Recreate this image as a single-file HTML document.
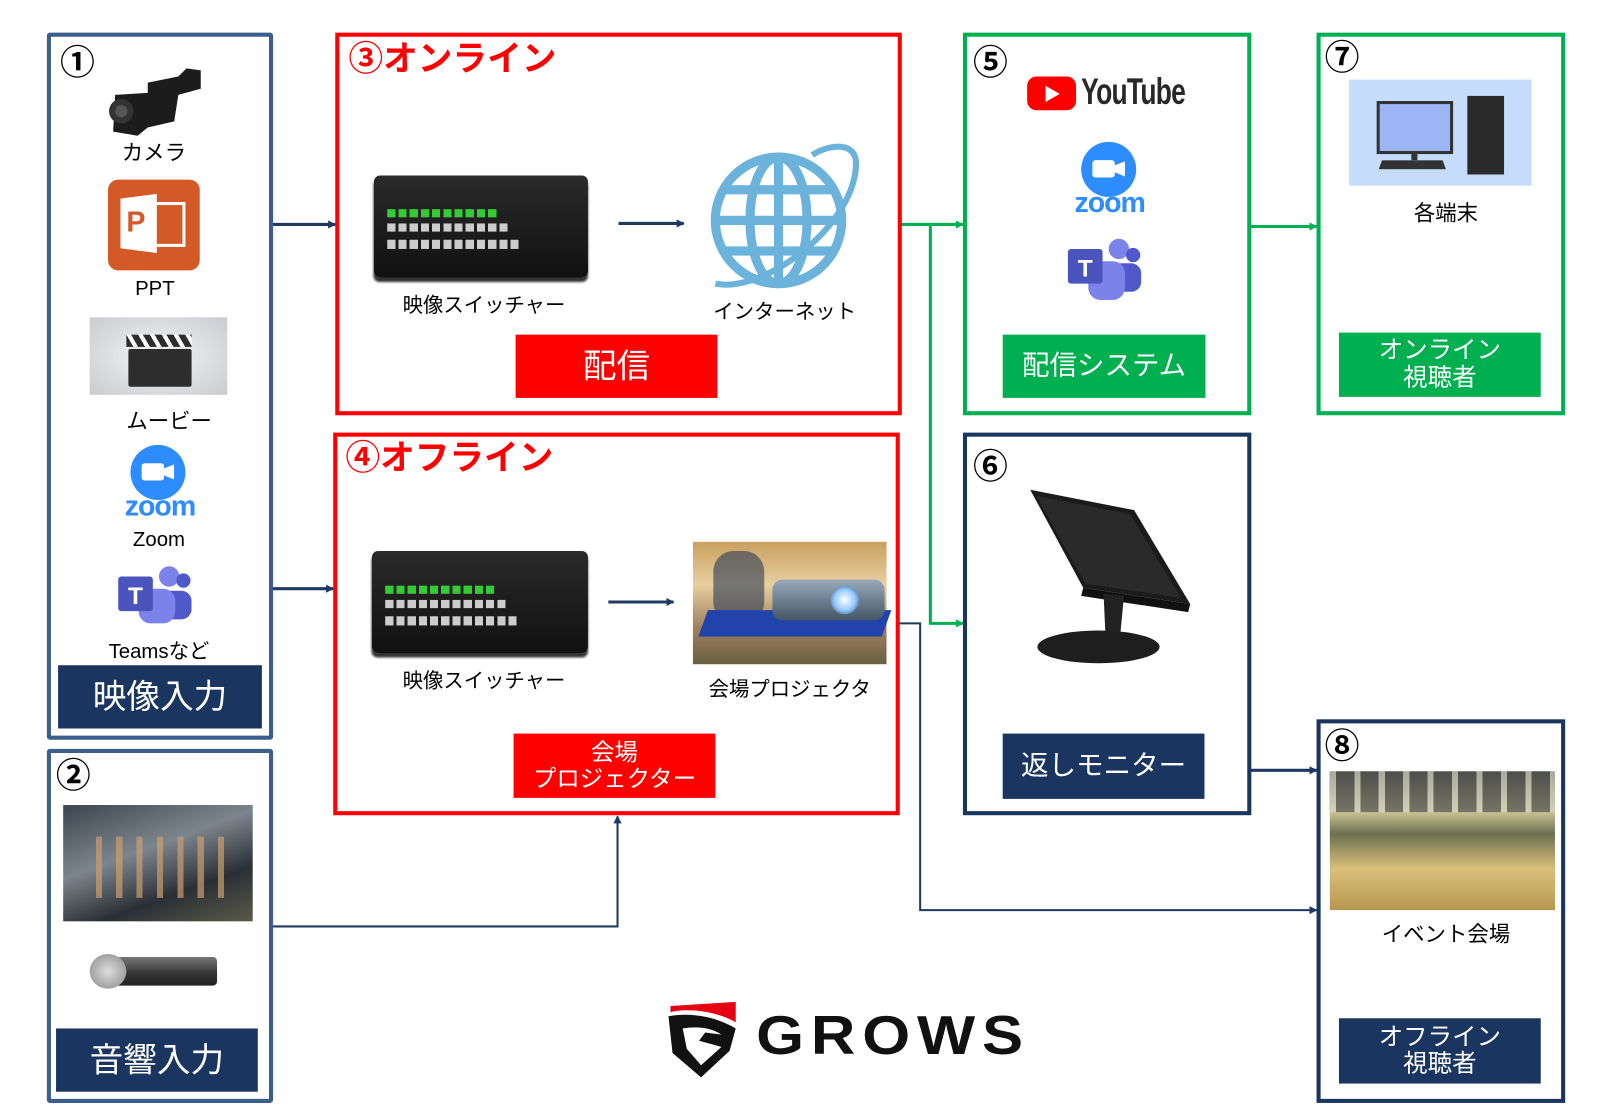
<!DOCTYPE html>
<html><head><meta charset="utf-8">
<style>
html,body{margin:0;padding:0;background:#fff;width:1599px;height:1107px;overflow:hidden}
#w{position:absolute;left:0;top:0;width:1560px;height:1085px;transform-origin:0 0;transform:scale(1.019,1.0203);font-family:"Liberation Sans","Noto Sans CJK JP",sans-serif}
.a{position:absolute;box-sizing:border-box}
.t{position:absolute;white-space:nowrap;text-align:center;color:#000;transform:translateX(-50%)}
.bar{position:absolute;color:#fff;display:flex;align-items:center;justify-content:center;text-align:center;line-height:1.1}
.num{position:absolute;font-size:34px;color:#000;line-height:1;font-family:"Noto Sans CJK JP",sans-serif;font-weight:bold}
.sw{position:absolute;background:linear-gradient(#2a2a2a,#111);border-radius:6px;box-shadow:0 4px 2px #333}
</style></head><body><div id="w">

<svg class="a" style="left:0;top:0" width="1560" height="1085">
<defs>
<marker id="mb" markerWidth="8" markerHeight="8" refX="7" refY="4" orient="auto" markerUnits="userSpaceOnUse"><path d="M0,0 L8,4 L0,8z" fill="#1f3a60"/></marker>
<marker id="mg" markerWidth="8" markerHeight="8" refX="7" refY="4" orient="auto" markerUnits="userSpaceOnUse"><path d="M0,0 L8,4 L0,8z" fill="#00b050"/></marker>
</defs>
<g fill="none" stroke-width="3">
<path d="M267,220 H329" stroke="#1f3a60" marker-end="url(#mb)"/>
<path d="M267,577 H327" stroke="#1f3a60" marker-end="url(#mb)"/>
<path d="M607,219 H671" stroke="#1f3a60" marker-end="url(#mb)"/>
<path d="M597,590 H661" stroke="#1f3a60" marker-end="url(#mb)"/>
<path d="M884,220 H945" stroke="#00b050" marker-end="url(#mg)"/>
<path d="M913,220 V611 H945" stroke="#00b050" marker-end="url(#mg)"/>
<path d="M1227,222 H1292" stroke="#00b050" marker-end="url(#mg)"/>
<path d="M1227,755 H1292" stroke="#1f3a60" marker-end="url(#mb)"/>
<path d="M882,611 H903 V892 H1292" stroke="#1f3a60" marker-end="url(#mb)" stroke-width="2"/>
<path d="M267,908 H606 V800" stroke="#1f3a60" marker-end="url(#mb)" stroke-width="2"/>
</g>
</svg>

<div class="a" style="left:46px;top:32px;width:222px;height:693px;border:4px solid #3a5f8c;border-radius:3px"></div>
<div class="a" style="left:46px;top:734px;width:222px;height:347px;border:4px solid #3a5f8c;border-radius:3px"></div>
<div class="a" style="left:329px;top:32px;width:556px;height:375px;border:4px solid #f00"></div>
<div class="a" style="left:327px;top:424px;width:556px;height:375px;border:4px solid #f00"></div>
<div class="a" style="left:945px;top:32px;width:283px;height:375px;border:4px solid #00b050"></div>
<div class="a" style="left:1292px;top:32px;width:244px;height:375px;border:4px solid #00b050"></div>
<div class="a" style="left:945px;top:424px;width:283px;height:375px;border:4px solid #1a355f"></div>
<div class="a" style="left:1292px;top:705px;width:244px;height:376px;border:4px solid #1a355f"></div>

<div class="num" style="left:59px;top:42px">①</div>
<div class="num" style="left:55px;top:741px">②</div>
<div class="num" style="left:955px;top:42px">⑤</div>
<div class="num" style="left:1300px;top:37px">⑦</div>
<div class="num" style="left:955px;top:438px">⑥</div>
<div class="num" style="left:1300px;top:712px">⑧</div>
<div class="a" style="left:342px;top:40px;font-size:34px;font-weight:bold;color:#f00;line-height:1.1">③オンライン</div>
<div class="a" style="left:339px;top:431px;font-size:34px;font-weight:bold;color:#f00;line-height:1.1">④オフライン</div>

<svg class="a" style="left:105px;top:63px" width="96" height="72"><path d="M8,30 L40,28 L40,18 L70,12 L78,4 L92,6 L92,24 L70,30 L66,56 L40,62 L30,70 L6,66 Z" fill="#1c1c1c"/><circle cx="14" cy="46" r="12" fill="#333"/><circle cx="14" cy="46" r="6" fill="#555"/></svg>
<div class="t" style="left:151px;top:134px;font-size:21px">カメラ</div>
<div class="a" style="left:106px;top:176px;width:90px;height:89px;background:#d35a26;border-radius:10px"></div>
<div class="a" style="left:118px;top:190px;width:36px;height:58px;background:#fff;clip-path:polygon(0 8%,100% 0,100% 100%,0 92%)"></div>
<div class="a" style="left:150px;top:198px;width:32px;height:44px;border:3px solid #fff"></div>
<div class="a" style="left:124px;top:202px;font-size:28px;font-weight:bold;color:#d35a26">P</div>
<div class="t" style="left:152px;top:272px;font-size:20px">PPT</div>
<div class="a" style="left:88px;top:311px;width:135px;height:76px;background:radial-gradient(#f4f4f4,#c9cbd0)"></div>
<div class="a" style="left:124px;top:328px;width:64px;height:12px;background:repeating-linear-gradient(60deg,#2d2d2d 0 6px,#fff 6px 10px)"></div>
<div class="a" style="left:126px;top:342px;width:62px;height:37px;background:#2d2d2d;border-radius:2px"></div>
<div class="t" style="left:166px;top:397px;font-size:21px">ムービー</div>
<div class="a" style="left:128px;top:436px;width:54px;height:54px;border-radius:50%;background:#2d8cff"></div>
<div class="a" style="left:139px;top:454px;width:22px;height:17px;background:#fff;border-radius:3px"></div>
<div class="a" style="left:160px;top:455px;width:11px;height:15px;background:#fff;clip-path:polygon(0 30%,100% 0,100% 100%,0 70%)"></div>
<div class="t" style="left:157px;top:480px;font-size:28px;color:#2d8cff;font-weight:bold;letter-spacing:-1px">zoom</div>
<div class="t" style="left:156px;top:518px;font-size:20px">Zoom</div>
<svg class="a" style="left:114px;top:553px" width="74" height="60"><circle cx="52" cy="12" r="10" fill="#7b83eb"/><circle cx="66" cy="16" r="7" fill="#5059c9"/><rect x="44" y="26" width="30" height="28" rx="10" fill="#5059c9"/><rect x="22" y="24" width="36" height="34" rx="12" fill="#7b83eb"/><rect x="2" y="12" width="34" height="34" rx="3" fill="#4b53bc"/><text x="19" y="39" font-size="24" font-weight="bold" fill="#fff" text-anchor="middle" font-family="Liberation Sans">T</text></svg>
<div class="t" style="left:156px;top:622px;font-size:20px">Teamsなど</div>
<div class="bar" style="left:57px;top:652px;width:200px;height:62px;background:#1a355f;font-size:33px">映像入力</div>

<div class="a" style="left:62px;top:789px;width:186px;height:114px;background:linear-gradient(160deg,#3c4550,#7d858c 40%,#2a2f35 70%,#5a5a4a)"></div>
<div class="a" style="left:80px;top:820px;width:150px;height:60px;background:repeating-linear-gradient(90deg,transparent 0 14px,#c9a070 14px 20px);opacity:.7"></div>
<div class="a" style="left:90px;top:938px;width:123px;height:28px;background:linear-gradient(#777,#333 60%,#222);border-radius:14px 4px 4px 14px"></div>
<div class="a" style="left:88px;top:935px;width:36px;height:34px;background:radial-gradient(#ddd,#888);border-radius:50%"></div>
<div class="bar" style="left:55px;top:1008px;width:198px;height:62px;background:#1a355f;font-size:33px">音響入力</div>

<div class="sw" style="left:367px;top:172px;width:210px;height:100px"></div>
<div class="a" style="left:380px;top:205px;width:110px;height:8px;background:repeating-linear-gradient(90deg,#3c3 0 8px,transparent 8px 11px)"></div>
<div class="a" style="left:380px;top:219px;width:120px;height:8px;background:repeating-linear-gradient(90deg,#ccc 0 8px,transparent 8px 11px)"></div>
<div class="a" style="left:380px;top:235px;width:130px;height:9px;background:repeating-linear-gradient(90deg,#ccc 0 8px,transparent 8px 11px)"></div>
<div class="t" style="left:475px;top:283px;font-size:20px">映像スイッチャー</div>
<svg class="a" style="left:692px;top:138px" width="155" height="155"><g fill="none" stroke="#6cb3db" stroke-width="9"><circle cx="72" cy="78" r="62"/><ellipse cx="72" cy="78" rx="28" ry="62"/><path d="M72,16 V140 M10,78 H134 M20,48 H124 M20,108 H124"/></g><path d="M10,140 C60,150 150,80 148,20 C146,0 120,4 105,14" fill="none" stroke="#6cb3db" stroke-width="6"/></svg>
<div class="t" style="left:770px;top:289px;font-size:20px">インターネット</div>
<div class="bar" style="left:506px;top:328px;width:198px;height:62px;background:#f00;font-size:33px">配信</div>

<div class="sw" style="left:365px;top:540px;width:212px;height:100px"></div>
<div class="a" style="left:378px;top:574px;width:110px;height:8px;background:repeating-linear-gradient(90deg,#3c3 0 8px,transparent 8px 11px)"></div>
<div class="a" style="left:378px;top:588px;width:120px;height:8px;background:repeating-linear-gradient(90deg,#ccc 0 8px,transparent 8px 11px)"></div>
<div class="a" style="left:378px;top:604px;width:130px;height:9px;background:repeating-linear-gradient(90deg,#ccc 0 8px,transparent 8px 11px)"></div>
<div class="t" style="left:475px;top:651px;font-size:20px">映像スイッチャー</div>
<div class="a" style="left:680px;top:531px;width:190px;height:120px;background:linear-gradient(180deg,#c9a060,#e8cfa0 35%,#a08060 70%,#6a6040)"></div>
<div class="a" style="left:700px;top:540px;width:50px;height:70px;background:#2a3a55;opacity:.6;border-radius:20px"></div>
<div class="a" style="left:690px;top:598px;width:180px;height:26px;background:#2244aa;transform:skewX(-20deg)"></div>
<div class="a" style="left:758px;top:568px;width:110px;height:40px;background:linear-gradient(#9ab,#456);border-radius:10px"></div>
<div class="a" style="left:815px;top:574px;width:28px;height:28px;border-radius:50%;background:radial-gradient(#fff,#9cf 50%,#246)"></div>
<div class="t" style="left:775px;top:659px;font-size:20px">会場プロジェクタ</div>
<div class="bar" style="left:504px;top:719px;width:198px;height:63px;background:#f00;font-size:23px">会場<br>プロジェクター</div>

<div class="a" style="left:1008px;top:75px;width:48px;height:33px;background:#f00;border-radius:9px"></div>
<div class="a" style="left:1026px;top:84px;width:14px;height:16px;background:#fff;clip-path:polygon(0 0,100% 50%,0 100%)"></div>
<div class="a" style="left:1061px;top:72px;font-size:36px;font-weight:bold;color:#282828;transform:scaleX(.72);transform-origin:0 0;letter-spacing:-1px;line-height:1">YouTube</div>
<div class="a" style="left:1061px;top:139px;width:54px;height:54px;border-radius:50%;background:#2d8cff"></div>
<div class="a" style="left:1072px;top:157px;width:22px;height:17px;background:#fff;border-radius:3px"></div>
<div class="a" style="left:1093px;top:158px;width:11px;height:15px;background:#fff;clip-path:polygon(0 30%,100% 0,100% 100%,0 70%)"></div>
<div class="t" style="left:1089px;top:183px;font-size:28px;color:#2d8cff;font-weight:bold;letter-spacing:-1px">zoom</div>
<svg class="a" style="left:1046px;top:232px" width="74" height="64"><circle cx="52" cy="12" r="10" fill="#7b83eb"/><circle cx="66" cy="18" r="7" fill="#5059c9"/><rect x="44" y="26" width="30" height="28" rx="10" fill="#5059c9"/><rect x="22" y="24" width="36" height="38" rx="12" fill="#7b83eb"/><rect x="2" y="12" width="34" height="34" rx="3" fill="#4b53bc"/><text x="19" y="39" font-size="24" font-weight="bold" fill="#fff" text-anchor="middle" font-family="Liberation Sans">T</text></svg>
<div class="bar" style="left:984px;top:328px;width:199px;height:62px;background:#00b050;font-size:27px">配信システム</div>

<div class="a" style="left:1324px;top:78px;width:179px;height:104px;background:#c5dcfb"></div>
<div class="a" style="left:1351px;top:99px;width:75px;height:52px;background:#9cb6f5;border:3px solid #333;box-sizing:border-box"></div>
<div class="a" style="left:1385px;top:151px;width:6px;height:6px;background:#333"></div>
<div class="a" style="left:1353px;top:157px;width:66px;height:9px;background:#333;clip-path:polygon(5% 0,95% 0,100% 100%,0 100%)"></div>
<div class="a" style="left:1440px;top:94px;width:36px;height:77px;background:#2a2a2a"></div>
<div class="t" style="left:1419px;top:193px;font-size:21px">各端末</div>
<div class="bar" style="left:1314px;top:326px;width:198px;height:63px;background:#00b050;font-size:24px">オンライン<br>視聴者</div>

<svg class="a" style="left:1003px;top:476px" width="170" height="188"><path d="M8,4 L110,24 L165,116 L60,100 Z" fill="#1b1b1b"/><path d="M14,10 L106,28 L156,110 L62,96 Z" fill="#2a2a2a"/><path d="M60,100 L165,116 L163,124 L58,108 Z" fill="#111"/><path d="M80,106 L100,108 L96,150 L82,150 Z" fill="#222"/><ellipse cx="75" cy="158" rx="60" ry="16" fill="#1e1e1e"/></svg>
<div class="bar" style="left:984px;top:719px;width:198px;height:64px;background:#1a355f;font-size:27px">返しモニター</div>

<div class="a" style="left:1305px;top:756px;width:221px;height:136px;background:linear-gradient(180deg,#3a4030,#c8c090 30%,#6a7050 45%,#d9bf7a 70%,#b89850)"></div>
<div class="a" style="left:1305px;top:756px;width:221px;height:40px;background:repeating-linear-gradient(90deg,#d8d8c8 0 6px,#555 6px 24px);opacity:.7"></div>
<div class="t" style="left:1419px;top:900px;font-size:21px">イベント会場</div>
<div class="bar" style="left:1314px;top:998px;width:198px;height:64px;background:#1a355f;font-size:24px">オフライン<br>視聴者</div>

<svg class="a" style="left:652px;top:980px" width="80" height="80"><path d="M6,6 L70,2 L70,22 C50,10 20,8 6,12 Z" fill="#e60012"/><path d="M4,16 C25,12 50,16 70,28 L64,50 L36,76 L8,52 Z M18,28 L22,48 L36,64 L56,46 L34,40 L40,32 L56,34 C44,26 30,26 18,28 Z" fill="#111" fill-rule="evenodd"/></svg>
<div class="a" style="left:742px;top:988px;font-size:54px;font-weight:bold;color:#111;letter-spacing:6px;line-height:1;transform:scaleX(1.12);transform-origin:0 0">GROWS</div>

</div></body></html>
